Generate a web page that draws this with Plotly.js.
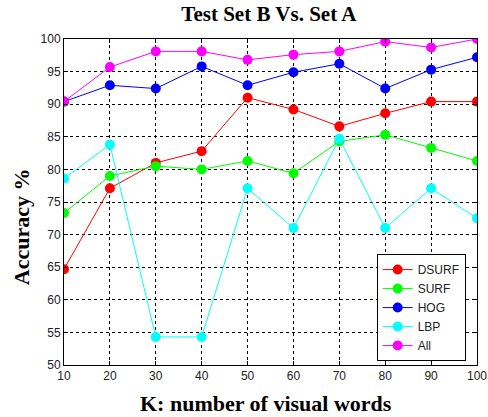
<!DOCTYPE html>
<html>
<head>
<meta charset="utf-8">
<script src="https://cdn.plot.ly/plotly-3.0.1.min.js"></script>
<style>html,body{margin:0;padding:0;background:#fff;}#chart{width:488px;height:417px;}</style>
</head>
<body>
<div id="chart"></div>
<script>
const kValues = [10, 20, 30, 40, 50, 60, 70, 80, 90, 100];
const dsurf = [64.7, 77.1, 81.0, 82.8, 91.0, 89.2, 86.6, 88.6, 90.4, 90.4];
const surf  = [73.3, 79.0, 80.5, 80.0, 81.3, 79.4, 84.3, 85.3, 83.3, 81.3];
const hog   = [90.4, 92.9, 92.4, 95.8, 92.9, 94.9, 96.2, 92.4, 95.3, 97.2];
const lbp   = [78.6, 83.8, 54.3, 54.3, 77.1, 71.0, 84.7, 71.0, 77.1, 72.5];
const all   = [90.4, 95.7, 98.1, 98.1, 96.8, 97.6, 98.1, 99.6, 98.7, 100.0];
const seriesNames = ["DSURF", "SURF", "HOG", "LBP", "All"];
const seriesData = [dsurf, surf, hog, lbp, all];
const seriesColors = ["#ff0000", "#00ff00", "#0000ff", "#00ffff", "#ff00ff"];
const xTicks = [10, 20, 30, 40, 50, 60, 70, 80, 90, 100];
const yTicks = [50, 55, 60, 65, 70, 75, 80, 85, 90, 95, 100];

const traces = seriesNames.map((n, i) => ({
  x: kValues, y: seriesData[i], name: n, type: "scatter", mode: "lines+markers",
  line: {color: seriesColors[i], width: 1},
  marker: {color: seriesColors[i], size: 10}
}));

const axisCommon = {
  showline: true, linecolor: "#000", linewidth: 1, mirror: "ticks",
  showgrid: true, gridcolor: "#000", griddash: "dot", gridwidth: 1,
  ticks: "inside", ticklen: 4, tickcolor: "#000",
  tickfont: {family: "Liberation Sans, Arial", size: 12, color: "#222"},
  ticklabeloverflow: "allow",
  zeroline: false
};

const serif = "Liberation Serif, Times New Roman";

const layout = {
  width: 488, height: 417,
  margin: {l: 64, r: 11, t: 39, b: 52},
  paper_bgcolor: "#fff", plot_bgcolor: "#fff",
  title: {text: "Test Set B Vs. Set A", xref: "container", x: 0.551, xanchor: "center", y: 0.985, yanchor: "top",
          font: {family: serif, size: 21, color: "#000", weight: "bold"}},
  xaxis: Object.assign({}, axisCommon, {range: [10, 100], tickvals: xTicks}),
  yaxis: Object.assign({}, axisCommon, {range: [50, 100], tickvals: yTicks}),
  annotations: [
    {text: "K: number of visual words", xref: "paper", yref: "paper", x: 0.49, y: -0.1166,
     xanchor: "center", yanchor: "middle", showarrow: false,
     font: {family: serif, size: 22, color: "#000", weight: "bold"}},
    {text: "Accuracy %", xref: "paper", yref: "paper", x: -0.104, y: 0.423, textangle: -90,
     xanchor: "center", yanchor: "middle", showarrow: false,
     font: {family: serif, size: 22, color: "#000", weight: "bold"}}
  ],
  showlegend: true,
  legend: {x: 0.757, y: 0.012, xanchor: "left", yanchor: "bottom",
           bgcolor: "#fff", bordercolor: "#000", borderwidth: 1,
           font: {family: "Liberation Sans, Arial", size: 12, color: "#222"},
           itemwidth: 30, tracegroupgap: 0}
};

Plotly.newPlot("chart", traces, layout, {displayModeBar: false, staticPlot: true});
</script>
</body>
</html>
